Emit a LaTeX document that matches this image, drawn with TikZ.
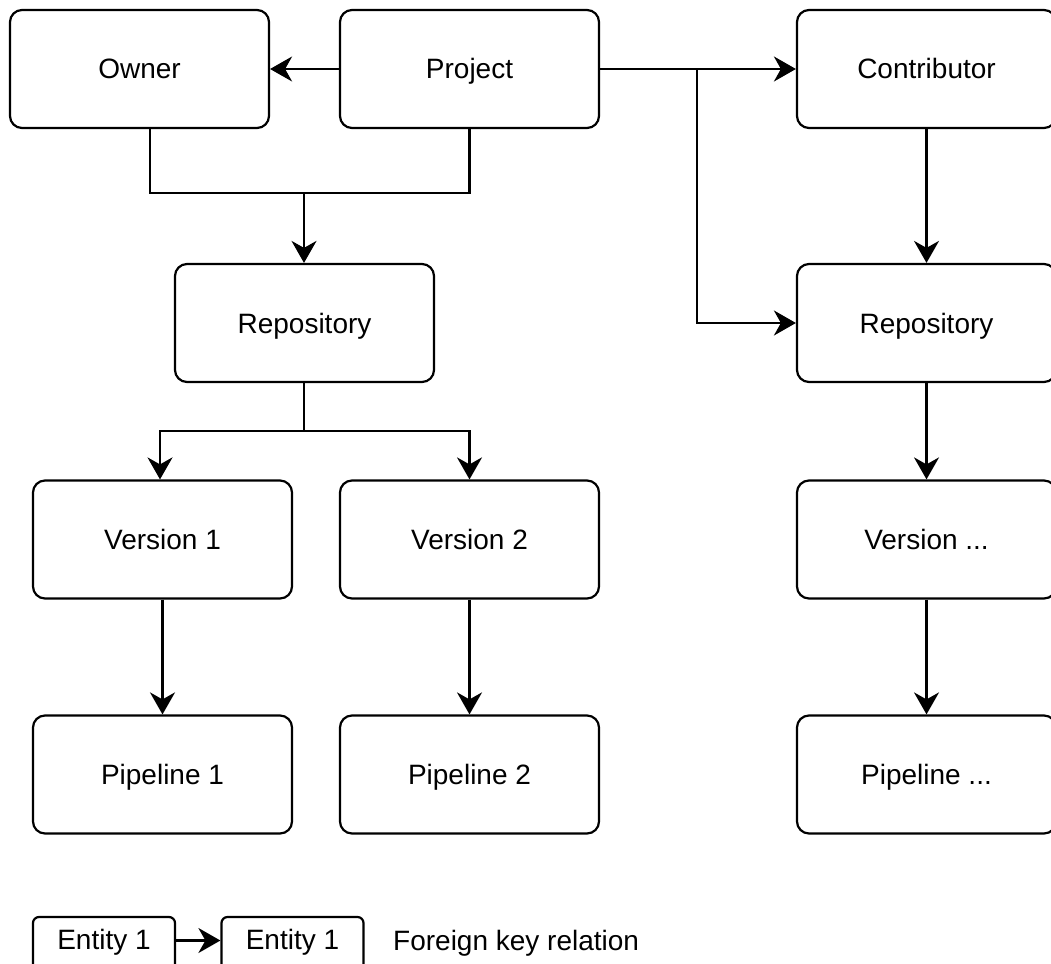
\documentclass[tikz,border=0pt]{standalone}
\usepackage{fontspec}
\setmainfont{Liberation Sans}
\usetikzlibrary{arrows.meta}
\begin{document}
\begin{tikzpicture}[x=1pt,y=-1pt,
  labelfont/.style={font=\fontsize{28}{33}\selectfont},
  entity/.style={draw, line width=2.2pt, rounded corners=12pt,
    minimum width=259pt, minimum height=118pt, inner sep=0pt,
    text height=20pt, text depth=0pt, labelfont},
  legendbox/.style={draw, line width=2.2pt, rounded corners=6pt,
    minimum width=142pt, minimum height=53pt, inner sep=0pt,
    text height=20pt, text depth=9pt, labelfont},
  link/.style={line width=2.2pt},
  fk/.style={line width=2.2pt, -{Stealth[length=22pt,width=25pt,inset=7pt]}}
]
\useasboundingbox (0,0) rectangle (1051,963);

% entities
\node[entity] (owner)   at (139.5,69)  {Owner};
\node[entity] (project) at (469.5,69)  {Project};
\node[entity] (contrib) at (926.5,69)  {Contributor};
\node[entity] (repoL)   at (304.5,323) {Repository};
\node[entity] (repoR)   at (926.5,323) {Repository};
\node[entity] (v1)      at (162.5,539.5) {Version 1};
\node[entity] (v2)      at (469.5,539.5) {Version 2};
\node[entity] (vn)      at (926.5,539.5) {Version ...};
\node[entity] (p1)      at (162.5,774.5) {Pipeline 1};
\node[entity] (p2)      at (469.5,774.5) {Pipeline 2};
\node[entity] (pn)      at (926.5,774.5) {Pipeline ...};

% junction points of the forked connectors
\coordinate (jA) at (304,193);
\coordinate (jB) at (697,69);
\coordinate (jC) at (304,431);

% foreign keys
\draw[fk] (project.west) -- (owner.east);
\draw[link] ([xshift=10.5pt]owner.south) |- (jA) -| (project.south);
\draw[fk] (jA) -- (jA |- repoL.north);
\draw[fk] (project.east) -- (contrib.west);
\draw[fk] (jB) |- (repoR.west);
\draw[fk] (contrib.south) -- (repoR.north);
\draw[link] (repoL.south -| jC) -- (jC);
\draw[fk] (jC) -| ([xshift=-2.5pt]v1.north);
\draw[fk] (jC) -| (v2.north);
\draw[fk] (repoR.south) -- (vn.north);
\draw[fk] (v1.south) -- (p1.north);
\draw[fk] (v2.south) -- (p2.north);
\draw[fk] (vn.south) -- (pn.north);

% legend
\node[legendbox] (e1) at (104,943.5) {Entity 1};
\node[legendbox] (e2) at (292.5,943.5) {Entity 1};
\draw[fk] ([yshift=3pt]e1.east) -- ([yshift=3pt]e2.west);
\node[anchor=west, inner sep=0pt, text height=20pt, text depth=0pt,
  labelfont] (fklabel) at (393,940) {Foreign key relation};
\end{tikzpicture}
\end{document}
